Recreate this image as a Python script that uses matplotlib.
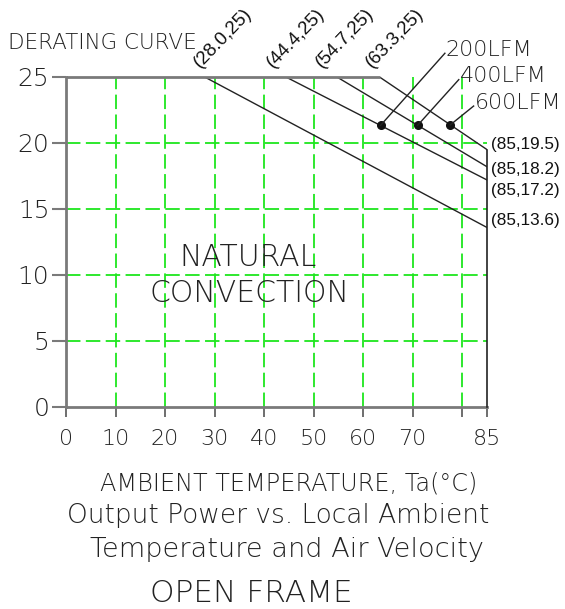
import numpy as np
import matplotlib
matplotlib.use("Agg")
import matplotlib.pyplot as plt

# derating data: start of derating at full load, and load at 85C
curve_names = ["NATURAL CONVECTION", "200LFM", "400LFM", "600LFM"]
knee_temp = [28.0, 44.4, 54.7, 63.3]
max_load = 25
end_temp = 85
end_load = [13.6, 17.2, 18.2, 19.5]

# marker points on the forced-air curves
dot_temp = [63.5, 71.0, 77.6]
x_ticks = [0, 10, 20, 30, 40, 50, 60, 70, 80, 85]
x_ticklabels = ["0", "10", "20", "30", "40", "50", "60", "70", "", "85"]
y_ticks = [0, 5, 10, 15, 20, 25]

W, H = 565, 609
fig = plt.figure(figsize=(W / 100, H / 100), dpi=100)
ax = fig.add_axes([66 / W, 1 - 407 / H, (487 - 66) / W, (407 - 77) / H])
ax.set_xlim(0, 85)
ax.set_ylim(0, 25)

txt = "#222222"
grid_green = "#1ee61e"
thin = dict(family="DejaVu Sans", fontweight=200)
plain = dict(family="Liberation Sans")

# dashed green grid
for gx in range(10, 81, 10):
    ax.plot([gx, gx], [0, 25], color=grid_green, lw=1.3, ls=(0, (8, 3)), zorder=1)
for gy in range(5, 21, 5):
    ax.plot([0, 85], [gy, gy], color=grid_green, lw=1.3, ls=(0, (8, 3)), zorder=1)

# derating lines
for k, e in zip(knee_temp, end_load):
    ax.plot([k, end_temp], [max_load, e], color="#222222", lw=1.0, zorder=3)

# envelope: flat top at 25 then the 600LFM slope, right edge at 85
ax.plot([0, knee_temp[-1]], [max_load, max_load], color="#7a7a7a", lw=2.0,
        zorder=4, clip_on=False, solid_capstyle="butt")
ax.plot([end_temp, end_temp], [0, end_load[-1]], color="#222222", lw=1.2,
        zorder=4, clip_on=False)

# dots and leader lines for the LFM curves
leader_end = [(76.5, 26.8), (79.3, 24.8), (82.3, 22.8)]
for i, t in enumerate(dot_temp):
    k, e = knee_temp[i + 1], end_load[i + 1]
    y = max_load + (t - k) * (e - max_load) / (end_temp - k)
    ax.plot(t, y, "o", color="#111111", ms=5.5, zorder=5)
    lx, ly = leader_end[i]
    ax.plot([t, lx], [y, ly], color="#222222", lw=1.0, zorder=5, clip_on=False)
    ax.text(lx + 0.2, ly + 0.25, curve_names[i + 1], fontsize=16, color=txt,
            ha="left", va="center", clip_on=False, **thin)

# rotated knee labels
knee_label_x = [27.1, 41.8, 51.7, 61.8]
for k, lx in zip(knee_temp, knee_label_x):
    ax.text(lx, 25.7, "(%.1f,25)" % k, rotation=46, rotation_mode="anchor",
            ha="left", va="baseline", fontsize=13.5, color="#111111",
            clip_on=False, **plain)

# end point labels at 85C
end_label_y = [14.1, 16.4, 18.0, 19.85]
for e, ly in zip(end_load, end_label_y):
    ax.text(85.9, ly, "(85,%.1f)" % e, ha="left", va="center", fontsize=12.3,
            color="#111111", clip_on=False, **plain)

ax.text(36.7, 11.3, "NATURAL", ha="center", va="center", fontsize=21.5,
        color=txt, **thin)
ax.text(37.1, 8.6, "CONVECTION", ha="center", va="center", fontsize=21.5,
        color=txt, **thin)

# axes styling
for s in ["top", "right"]:
    ax.spines[s].set_visible(False)
ax.spines["left"].set_color("#7a7a7a")
ax.spines["left"].set_linewidth(2.0)
ax.spines["bottom"].set_color("#7a7a7a")
ax.spines["bottom"].set_linewidth(2.0)
ax.set_xticks(x_ticks)
ax.set_xticklabels(x_ticklabels, **thin)
ax.set_yticks(y_ticks)
ax.set_yticklabels([str(v) for v in y_ticks], **thin)
ax.tick_params(axis="y", length=10, width=1.5, color="#7a7a7a", labelsize=18,
               labelcolor=txt, pad=2)
ax.tick_params(axis="x", length=7, width=1.2, color="#555555", labelsize=16,
               labelcolor=txt, pad=9)

fig.text(8 / W, 1 - 43 / H, "DERATING CURVE", fontsize=15.5, color=txt,
         ha="left", va="center", **thin)
fig.text(289 / W, 1 - 483 / H, "AMBIENT TEMPERATURE, Ta(°C)", fontsize=17.3,
         color=txt, ha="center", va="center", **thin)
fig.text(278 / W, 1 - 516 / H, "Output Power vs. Local Ambient", fontsize=19,
         color=txt, ha="center", va="center", **thin)
fig.text(287 / W, 1 - 549 / H, "Temperature and Air Velocity", fontsize=19.6,
         color=txt, ha="center", va="center", **thin)
fig.text(251 / W, 1 - 593 / H, "OPEN FRAME", fontsize=22.5, color=txt,
         ha="center", va="center", **thin)

fig.savefig("out.png", dpi=100, facecolor="white")
